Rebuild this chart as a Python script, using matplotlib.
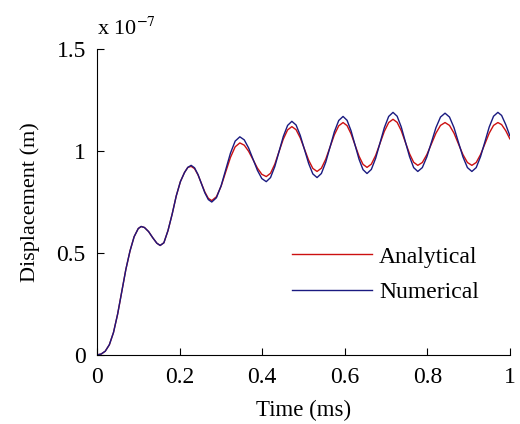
import matplotlib.pyplot as plt

# time in ms, displacement in units of 1e-7 m
t_early = [0, 0.01, 0.02, 0.03, 0.04, 0.05, 0.06, 0.07, 0.08, 0.09, 0.10,
           0.107, 0.115, 0.125, 0.135, 0.145, 0.153, 0.162, 0.172, 0.182,
           0.192, 0.202, 0.212, 0.22]
d_early = [0, 0.004, 0.018, 0.05, 0.11, 0.20, 0.31, 0.42, 0.51, 0.58, 0.62,
           0.63, 0.625, 0.605, 0.575, 0.548, 0.537, 0.55, 0.61, 0.69,
           0.78, 0.85, 0.895, 0.92]

t_late = [0.228, 0.2363, 0.2447, 0.253, 0.2613, 0.2697,
          0.278, 0.2893, 0.3007, 0.312, 0.3233, 0.3347,
          0.346, 0.3567, 0.3673, 0.378, 0.3887, 0.3993,
          0.41, 0.4203, 0.4307, 0.441, 0.4513, 0.4617,
          0.472, 0.4822, 0.4923, 0.5025, 0.5127, 0.5228,
          0.533, 0.5435, 0.554, 0.5645, 0.575, 0.5855,
          0.596, 0.6057, 0.6153, 0.625, 0.6347, 0.6443,
          0.654, 0.6645, 0.675, 0.6855, 0.696, 0.7065,
          0.717, 0.727, 0.737, 0.747, 0.757, 0.767,
          0.777, 0.788, 0.799, 0.81, 0.821, 0.832,
          0.843, 0.8538, 0.8647, 0.8755, 0.8863, 0.8972,
          0.908, 0.9185, 0.929, 0.9395, 0.95, 0.9605,
          0.971, 0.98, 0.99, 1.0]
numerical_late = [0.93, 0.918, 0.885, 0.84, 0.795, 0.762,
                  0.75, 0.771, 0.83, 0.91, 0.99, 1.049,
                  1.07, 1.055, 1.015, 0.96, 0.905, 0.865,
                  0.85, 0.87, 0.924, 0.998, 1.072, 1.126,
                  1.146, 1.128, 1.077, 1.008, 0.939, 0.888,
                  0.87, 0.89, 0.945, 1.02, 1.095, 1.15,
                  1.17, 1.151, 1.10, 1.03, 0.96, 0.909,
                  0.89, 0.91, 0.965, 1.04, 1.115, 1.17,
                  1.19, 1.171, 1.118, 1.045, 0.973, 0.919,
                  0.90, 0.919, 0.972, 1.043, 1.115, 1.167,
                  1.186, 1.167, 1.115, 1.043, 0.972, 0.919,
                  0.90, 0.919, 0.973, 1.045, 1.118, 1.171,
                  1.19, 1.175, 1.13, 1.075]
analytical_late = [0.925, 0.914, 0.883, 0.841, 0.799, 0.768,
                   0.757, 0.776, 0.828, 0.899, 0.969, 1.021,
                   1.04, 1.029, 0.999, 0.958, 0.916, 0.886,
                   0.875, 0.891, 0.936, 0.998, 1.059, 1.104,
                   1.12, 1.105, 1.065, 1.01, 0.955, 0.915,
                   0.90, 0.916, 0.96, 1.02, 1.08, 1.124,
                   1.14, 1.125, 1.085, 1.03, 0.975, 0.935,
                   0.92, 0.936, 0.979, 1.038, 1.097, 1.14,
                   1.156, 1.141, 1.10, 1.043, 0.987, 0.945,
                   0.93, 0.944, 0.983, 1.035, 1.088, 1.126,
                   1.14, 1.126, 1.088, 1.035, 0.983, 0.944,
                   0.93, 0.944, 0.983, 1.035, 1.088, 1.126,
                   1.14, 1.13, 1.10, 1.06]

t = t_early + t_late
numerical = d_early + numerical_late
analytical = d_early + analytical_late

plt.rcParams['font.family'] = 'Liberation Serif'
plt.rcParams['mathtext.fontset'] = 'stix'
fs = 17

fig = plt.figure(figsize=(5.2, 4.24), dpi=100)
ax = fig.add_axes([0.1865, 0.163, 0.794, 0.721])

ax.plot(t, analytical, color='#cc1010', lw=1.0, label='Analytical')
ax.plot(t, numerical, color='#1a1a80', lw=1.0, label='Numerical')

ax.set_xlim(0, 1)
ax.set_ylim(0, 1.5)
ax.set_xticks([0, 0.2, 0.4, 0.6, 0.8, 1])
ax.set_xticklabels(['0', '0.2', '0.4', '0.6', '0.8', '1'])
ax.set_yticks([0, 0.5, 1, 1.5])
ax.set_yticklabels(['0', '0.5', '1', '1.5'])
ax.spines['top'].set_visible(False)
ax.spines['right'].set_visible(False)
ax.tick_params(direction='in', length=5, labelsize=fs)
ax.tick_params(axis='x', pad=9)
ax.tick_params(axis='y', pad=8)

ax.set_xlabel('Time (ms)', fontsize=16.5, labelpad=8)
ax.set_ylabel('Displacement (m)', fontsize=16, labelpad=12)
ax.text(0.0, 1.03, r'x 10$^{-7}$', transform=ax.transAxes, fontsize=16,
        ha='left', va='bottom')

ax.legend(loc='upper left', bbox_to_anchor=(0.42, 0.425), frameon=False,
          fontsize=fs, handlelength=3.4, handletextpad=0.3, labelspacing=0.6)

fig.savefig('out.png', dpi=100)
